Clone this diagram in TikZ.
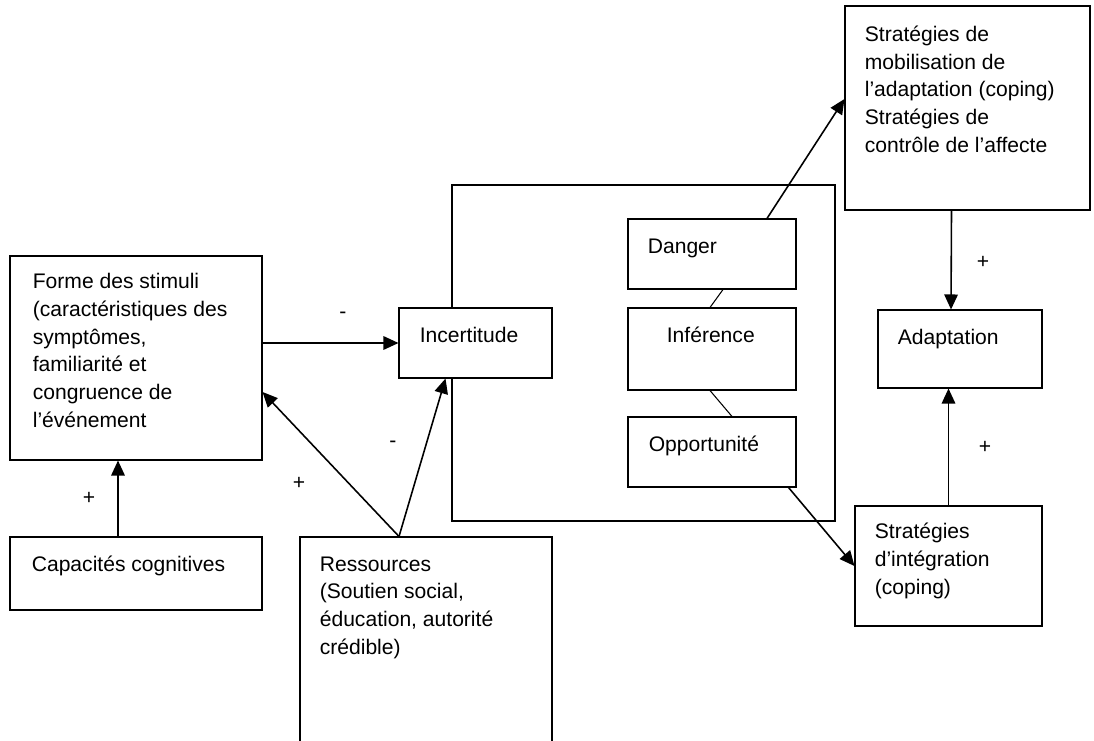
\documentclass[tikz,border=0pt]{standalone}
\usepackage{fontspec}
\setmainfont{Liberation Sans}
\usetikzlibrary{arrows.meta,fit}

\begin{document}
\begin{tikzpicture}[x=0.02cm,y=-0.02cm,
    every node/.style={font={\fontsize{12}{15.8}\selectfont}},
    box/.style={draw,line width=0.6pt,fill=white,inner sep=0pt},
    boxtext/.style={anchor=base west,align=left,inner sep=0pt},
    sign/.style={inner sep=0pt},
    link/.style={line width=0.9pt,-{Triangle[length=0.3cm,width=0.27cm]}}]
\clip (0,0) rectangle (1094,740);

% cadre et boites
\node[box,fit={(452,185) (835,521)}] (cadre) {};
\node[box,fit={(10,256) (262,460)}] (forme) {};
\node[box,fit={(10,537) (262,610)}] (capa) {};
\node[box,fit={(399,308) (552,378)}] (incert) {};
\node[box,fit={(300,537) (552,760)}] (ress) {};
\node[box,fit={(628,219) (796,289)}] (danger) {};
\node[box,fit={(628,308) (796,390)}] (infer) {};
\node[box,fit={(628,417) (796,487)}] (oppo) {};
\node[box,fit={(845,6) (1090,210)}] (mobil) {};
\node[box,fit={(878,310) (1042,388)}] (adapt) {};
\node[box,fit={(855,506) (1042,626)}] (integ) {};

% textes (ancre sur la ligne de base de la derniere ligne)
\node[boxtext] (formetxt) at ([shift={(23,172)}]forme.north west)
    {Forme des stimuli\\(caractéristiques des\\symptômes,\\familiarité et\\congruence de\\l’événement};
\node[boxtext] (capatxt) at ([shift={(22,35)}]capa.north west) {Capacités cognitives};
\node[boxtext] (incerttxt) at ([shift={(21,35)}]incert.north west) {Incertitude};
\node[boxtext] (resstxt) at ([shift={(20,118)}]ress.north west)
    {Ressources\\(Soutien social,\\éducation, autorité\\crédible)};
\node[boxtext] (dangertxt) at ([shift={(20,35)}]danger.north west) {Danger};
\node[boxtext] (infertxt) at ([shift={(39,35)}]infer.north west) {Inférence};
\node[boxtext] (oppotxt) at ([shift={(21,35)}]oppo.north west) {Opportunité};
\node[boxtext] (mobiltxt) at ([shift={(20,147)}]mobil.north west)
    {Stratégies de\\mobilisation de\\l’adaptation (coping)\\Stratégies de\\contrôle de l’affecte};
\node[boxtext] (adapttxt) at ([shift={(20,35)}]adapt.north west) {Adaptation};
\node[boxtext] (integtxt) at ([shift={(20,89)}]integ.north west)
    {Stratégies\\d’intégration\\(coping)};

% signes
\node[sign] (moinsa) at (343,315) {-};
\node[sign] (moinsb) at (393,444) {-};
\node[sign] (plusa) at (299,483) {+};
\node[sign] (plusb) at (89,498) {+};
\node[sign] (plusc) at (983,262) {+};
\node[sign] (plusd) at (985,447) {+};

% fleches
\draw[link] ([xshift=-0.36cm]capa.north) -- ([xshift=-0.36cm]forme.south);
\draw[link] (forme.east |- incert.west) -- (incert.west);
\draw[link] ([xshift=-0.54cm]ress.north) -- ([yshift=-0.68cm]forme.east);
\draw[link] ([xshift=-0.54cm]ress.north) -- ([xshift=-0.6cm]incert.south);
\draw[link] ([xshift=1.1cm]danger.north) -- ([yshift=0.18cm]mobil.west);
\draw[link] ([xshift=-0.16cm]oppo.south east) -- (integ.west);
\draw[link] ([xshift=-0.32cm]mobil.south) -- ([xshift=-0.18cm]adapt.north);
\draw[link] (integ.north) -- (integ.north |- adapt.south);
\draw[line width=0.6pt] ([xshift=0.22cm]danger.south) -- ([xshift=-0.04cm]infer.north);
\draw[line width=0.6pt] ([xshift=-0.04cm]infer.south) -- ([xshift=0.4cm]oppo.north);
\end{tikzpicture}
\end{document}
